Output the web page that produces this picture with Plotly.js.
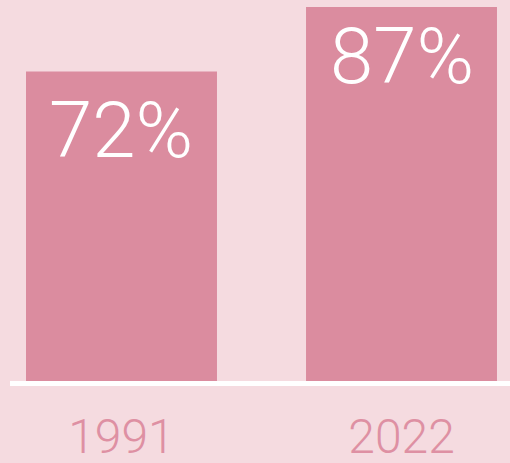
<!DOCTYPE html>
<html>
<head>
<meta charset="utf-8">
<script src="https://cdn.plot.ly/plotly-3.0.1.min.js"></script>
<style>html,body{margin:0;padding:0;background:#f5dbe0;}</style>
</head>
<body>
<div id="chart" style="width:510px;height:463px;"></div>
<script>
const years = ["1991", "2022"];
const shares = [72, 87];
const labels = ["72%", "87%"];
const labelShift = [-12, -2];

const barColor = "#db8c9f";
const bg = "#f5dbe0";

const trace = {
  type: "bar",
  x: years,
  y: shares,
  width: 0.682,
  marker: {color: barColor},
  hoverinfo: "none"
};

const annotations = years.map((yr, i) => ({
  x: i, y: shares[i], xref: "x", yref: "y",
  text: labels[i], showarrow: false,
  yanchor: "top", xanchor: "center", yshift: labelShift[i],
  font: {family: "Roboto Light, Roboto", size: 78, color: "#ffffff", weight: 300}
}));

const layout = {
  width: 510, height: 463,
  margin: {l: 0, r: 0, t: 0, b: 82},
  paper_bgcolor: bg, plot_bgcolor: bg,
  showlegend: false,
  xaxis: {
    type: "category",
    range: [-0.4339, 1.3875],
    showgrid: false, zeroline: false, showline: false,
    ticks: "",
    ticklabelstandoff: 23,
    tickfont: {family: "Roboto Light, Roboto", size: 48, color: "#de90a3", weight: 300}
  },
  yaxis: {
    range: [0, 88.6],
    visible: false, showgrid: false, zeroline: false
  },
  shapes: [{
    type: "rect", xref: "paper", yref: "paper",
    x0: 10/510, x1: 1, y0: -5/381, y1: 0,
    fillcolor: "#ffffff", line: {width: 0}, layer: "above"
  }],
  annotations: annotations
};

Plotly.newPlot("chart", [trace], layout, {displayModeBar: false, staticPlot: true});
</script>
</body>
</html>
